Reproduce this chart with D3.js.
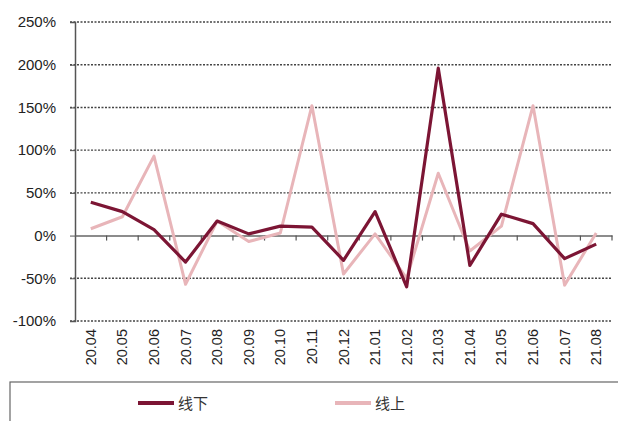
<!DOCTYPE html>
<html><head><meta charset="utf-8">
<script src="https://cdn.jsdelivr.net/npm/d3@7/dist/d3.min.js"></script>
<style>body{margin:0;background:#fff}svg{display:block}</style>
</head><body><svg id="c" width="618" height="421"></svg>
<script>
const categories=["20.04","20.05","20.06","20.07","20.08","20.09","20.10","20.11","20.12","21.01","21.02","21.03","21.04","21.05","21.06","21.07","21.08"];
const offline=[39,28,7,-31,17,2,11,10,-29,28,-60,196,-35,25,14,-27,-10];
const online=[8,22,93,-57,17,-7,3,152,-45,2,-50,73,-18,11,152,-58,3];
const yTicks=[-100,-50,0,50,100,150,200,250];
const seriesNames=["线下","线上"];

const svg=d3.select("#c");
const L=75,R=612,T=22,B=321;
const x=d3.scaleBand().domain(categories).range([L,R]);
const y=d3.scaleLinear().domain([-100,250]).range([B,T]);

// gridlines
svg.append("g").selectAll("line").data(yTicks.filter(d=>d!==0)).join("line")
 .attr("x1",70).attr("x2",R).attr("y1",d=>y(d)).attr("y2",d=>y(d))
 .attr("stroke","#444").attr("stroke-width",1.4).attr("stroke-dasharray","2,1.5");

// y axis
const ya=svg.append("g").attr("transform",`translate(${L},0)`)
 .call(d3.axisLeft(y).tickValues(yTicks).tickFormat(d=>d+"%").tickSize(5).tickPadding(14));
ya.select(".domain").attr("stroke","#555").attr("stroke-width",1.5);
ya.selectAll(".tick line").attr("stroke","#555");
ya.selectAll("text").attr("font-family","Liberation Sans, Arial, sans-serif").attr("font-size",15).attr("fill","#222");

// zero line with ticks
const xa=svg.append("g").attr("transform",`translate(0,${y(0)})`)
 .call(d3.axisBottom(x).tickSize(0).tickFormat(""));
xa.select(".domain").attr("stroke","#666").attr("stroke-width",1.5);
svg.append("g").selectAll("line").data(categories.slice(1).concat(["end"])).join("line")
 .attr("x1",(d,i)=>L+x.step()*(i+1)).attr("x2",(d,i)=>L+x.step()*(i+1))
 .attr("y1",y(0)).attr("y2",y(0)+5).attr("stroke","#555").attr("stroke-width",1.2);

// x labels
svg.append("g").selectAll("text").data(categories).join("text")
 .attr("transform",d=>`translate(${x(d)+x.bandwidth()/2+5},${B+8}) rotate(-90)`)
 .attr("text-anchor","end").attr("font-family","Liberation Sans, Arial, sans-serif")
 .attr("font-size",14.5).attr("fill","#222").text(d=>d);

const line=d3.line().x((d,i)=>x(categories[i])+x.bandwidth()/2).y(d=>y(d));
svg.append("path").datum(online).attr("d",line).attr("fill","none")
 .attr("stroke","#e8b5b9").attr("stroke-width",3).attr("stroke-linejoin","round");
svg.append("path").datum(offline).attr("d",line).attr("fill","none")
 .attr("stroke","#7c1534").attr("stroke-width",3.2).attr("stroke-linejoin","round");

// legend
svg.append("rect").attr("x",10).attr("y",382).attr("width",620).attr("height",50)
 .attr("fill","none").attr("stroke","#666").attr("stroke-width",1.2);
const lg=[{n:seriesNames[0],c:"#7c1534",x:138},{n:seriesNames[1],c:"#e8b5b9",x:335}];
const g=svg.append("g").selectAll("g").data(lg).join("g");
g.append("line").attr("x1",d=>d.x).attr("x2",d=>d.x+36).attr("y1",403).attr("y2",403)
 .attr("stroke",d=>d.c).attr("stroke-width",4);
g.append("text").attr("x",d=>d.x+40).attr("y",409).attr("font-family","Noto Sans CJK SC, sans-serif")
 .attr("font-size",15).attr("fill","#333").text(d=>d.n);
</script></body></html>
